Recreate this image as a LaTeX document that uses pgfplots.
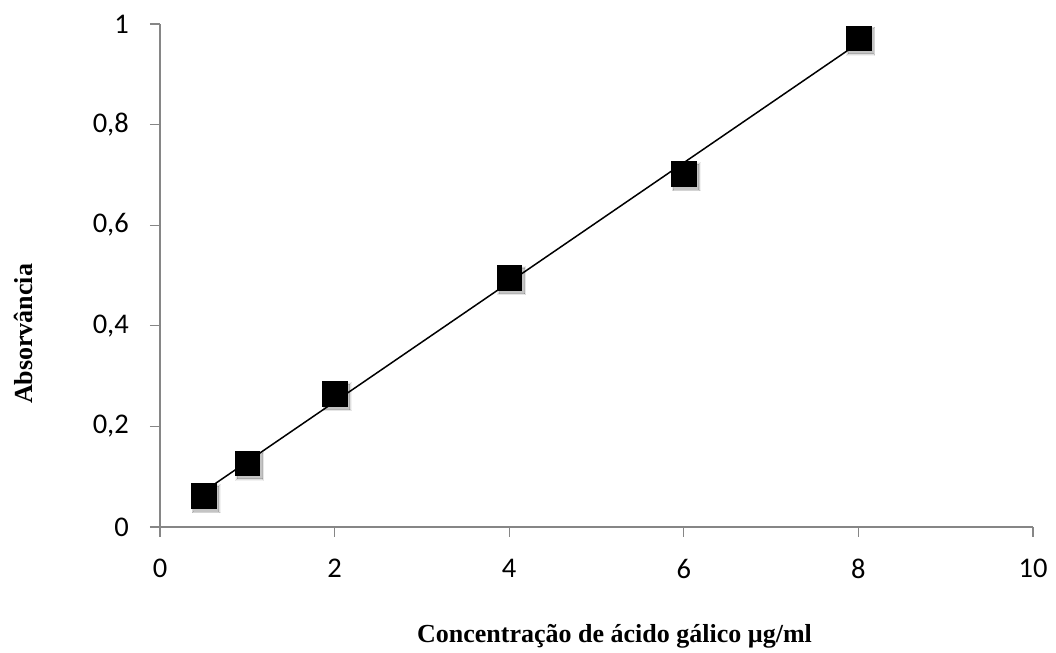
\documentclass[border=0pt]{standalone}
\usepackage{pgfplots}
\pgfplotsset{compat=1.18}
\usepackage{fontspec}
\setmainfont{Liberation Serif}
\newfontfamily\calibri{Carlito}
\definecolor{axisgray}{RGB}{134,134,134}
\pgfplotstableread{
x y
0.5 0.062
1 0.127
2 0.265
4 0.496
6 0.702
8 0.972
}\datatable
\begin{document}
\begin{tikzpicture}
\begin{axis}[
  scale only axis,
  width=873bp, height=503bp,
  xmin=0, xmax=10, ymin=0, ymax=1,
  axis x line*=bottom, axis y line*=left,
  axis line style={-, draw=axisgray, line width=1.3bp},
  xtick={0,2,4,6,8,10},
  ytick={0,0.2,0.4,0.6,0.8,1},
  tick align=outside,
  major tick length=10bp,
  tick style={draw=axisgray, line width=1.3bp},
  /pgf/number format/assume math mode=true,
  /pgf/number format/use comma,
  ticklabel style={font=\calibri\fontsize{28.5bp}{34bp}\selectfont, text=black, inner sep=0pt},
  xticklabel style={anchor=north, yshift=-22bp},
  yticklabel style={anchor=east, xshift=-21bp},
  xlabel={Concentração de ácido gálico µg/ml},
  ylabel={Absorvância},
  label style={font=\fontsize{26bp}{31bp}\selectfont\bfseries},
  xlabel style={at={(axis description cs:0.5206,-0.2306)}, anchor=base},
  ylabel style={at={(axis description cs:-0.1466,0.384)}, anchor=base},
  clip=false,
]
% trend line
\addplot[black, line width=1.5bp] coordinates {(0.5,0.0705) (8,0.962)};
% soft shadows
\addplot[only marks, mark=square*, mark size=14bp,
  mark options={xshift=2.5bp, yshift=-3bp, draw=black, fill=black, opacity=0.05, line width=0pt}] table {\datatable};
\addplot[only marks, mark=square*, mark size=13.2bp,
  mark options={xshift=2.5bp, yshift=-3bp, draw=black, fill=black, opacity=0.08, line width=0pt}] table {\datatable};
\addplot[only marks, mark=square*, mark size=12.5bp,
  mark options={xshift=2.5bp, yshift=-3bp, draw=black, fill=black, opacity=0.12, line width=0pt}] table {\datatable};
% data markers
\addplot[only marks, mark=square*, mark size=12.3bp,
  mark options={draw=black, fill=black, line width=0.2bp}] table {\datatable};
\end{axis}
\useasboundingbox (-160bp,-120bp) rectangle (896bp,527bp);
\end{tikzpicture}
\end{document}
